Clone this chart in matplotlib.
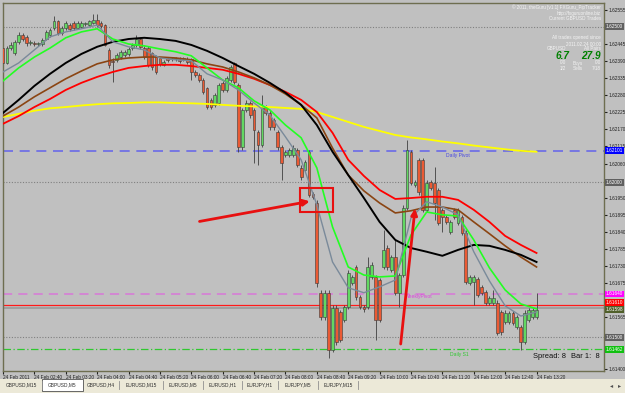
import matplotlib
matplotlib.use("Agg")
import matplotlib.pyplot as plt
import matplotlib.transforms as mtransforms
from matplotlib.patches import Rectangle
import numpy as np

plt.rcParams['font.family'] = ['Liberation Sans', 'DejaVu Sans']

# GBPUSD M5 candles, 24 Feb 2011 02:00 .. 13:20
opens = [1.62432, 1.62384, 1.62432, 1.62416, 1.62452, 1.62474, 1.62468, 1.62449, 1.62449, 1.62445,
         1.62445, 1.62461, 1.62474, 1.62497, 1.62519, 1.62481, 1.62497, 1.62506, 1.62513, 1.62497,
         1.62500, 1.62510, 1.62506, 1.62513, 1.62523, 1.62513, 1.62506, 1.62426, 1.62391, 1.62394,
         1.62403, 1.62410, 1.62413, 1.62432, 1.62442, 1.62461, 1.62432, 1.62432, 1.62416, 1.62407,
         1.62400, 1.62378, 1.62400, 1.62397, 1.62397, 1.62397, 1.62397, 1.62397, 1.62397, 1.62355,
         1.62345, 1.62329, 1.62304, 1.62265, 1.62249, 1.62255, 1.62320, 1.62297, 1.62329, 1.62384,
         1.62313, 1.62114, 1.62233, 1.62255, 1.62233, 1.62162, 1.62120, 1.62242, 1.62223, 1.62201,
         1.62162, 1.62114, 1.62088, 1.62088, 1.62088, 1.62104, 1.62046, 1.62040, 1.62098, 1.61962,
         1.61933, 1.61644, 1.61566, 1.61644, 1.61460, 1.61595, 1.61582, 1.61557, 1.61598, 1.61676,
         1.61727, 1.61631, 1.61598, 1.61598, 1.61695, 1.61695, 1.61685, 1.61727, 1.61788, 1.61718,
         1.61759, 1.61644, 1.61701, 1.61917, 1.62098, 1.61991, 1.62072, 1.62072, 1.61911, 1.62001,
         1.61998, 1.61975, 1.61911, 1.61888, 1.61840, 1.61911, 1.61869, 1.61888, 1.61837, 1.61676,
         1.61679, 1.61689, 1.61663, 1.61647, 1.61611, 1.61611, 1.61611, 1.61582, 1.61550, 1.61550,
         1.61579, 1.61534, 1.61534, 1.61486, 1.61557, 1.61566, 1.61566]
closes = [1.62384, 1.62432, 1.62442, 1.62452, 1.62474, 1.62461, 1.62449, 1.62449, 1.62445, 1.62449,
          1.62458, 1.62484, 1.62490, 1.62519, 1.62481, 1.62497, 1.62513, 1.62494, 1.62497, 1.62513,
          1.62513, 1.62510, 1.62519, 1.62523, 1.62506, 1.62503, 1.62442, 1.62378, 1.62387, 1.62410,
          1.62420, 1.62420, 1.62429, 1.62442, 1.62461, 1.62436, 1.62403, 1.62378, 1.62371, 1.62355,
          1.62381, 1.62387, 1.62394, 1.62397, 1.62397, 1.62391, 1.62397, 1.62387, 1.62355, 1.62345,
          1.62329, 1.62291, 1.62242, 1.62242, 1.62281, 1.62313, 1.62297, 1.62336, 1.62371, 1.62323,
          1.62114, 1.62233, 1.62255, 1.62217, 1.62168, 1.62120, 1.62242, 1.62223, 1.62178, 1.62178,
          1.62114, 1.62062, 1.62098, 1.62104, 1.62110, 1.62056, 1.62017, 1.62065, 1.61959, 1.61953,
          1.61676, 1.61566, 1.61644, 1.61460, 1.61595, 1.61486, 1.61492, 1.61598, 1.61708, 1.61695,
          1.61631, 1.61598, 1.61592, 1.61727, 1.61734, 1.61557, 1.61557, 1.61782, 1.61727, 1.61759,
          1.61644, 1.61701, 1.61917, 1.62104, 1.61998, 1.62001, 1.61969, 1.61911, 1.61998, 1.61982,
          1.61933, 1.61869, 1.61888, 1.61872, 1.61872, 1.61888, 1.61911, 1.61837, 1.61679, 1.61695,
          1.61695, 1.61637, 1.61644, 1.61611, 1.61627, 1.61627, 1.61515, 1.61518, 1.61579, 1.61579,
          1.61547, 1.61566, 1.61486, 1.61579, 1.61589, 1.61589, 1.61589]
highs = [1.62442, 1.62439, 1.62452, 1.62458, 1.62484, 1.62481, 1.62474, 1.62458, 1.62455, 1.62452,
         1.62465, 1.62490, 1.62497, 1.62535, 1.62523, 1.62503, 1.62519, 1.62513, 1.62519, 1.62519,
         1.62519, 1.62516, 1.62523, 1.62542, 1.62542, 1.62519, 1.62510, 1.62432, 1.62400, 1.62416,
         1.62426, 1.62426, 1.62436, 1.62449, 1.62474, 1.62468, 1.62439, 1.62439, 1.62420, 1.62410,
         1.62403, 1.62394, 1.62403, 1.62403, 1.62403, 1.62403, 1.62403, 1.62403, 1.62400, 1.62362,
         1.62352, 1.62336, 1.62307, 1.62271, 1.62288, 1.62320, 1.62326, 1.62342, 1.62378, 1.62387,
         1.62320, 1.62239, 1.62265, 1.62262, 1.62239, 1.62168, 1.62281, 1.62249, 1.62233, 1.62207,
         1.62168, 1.62120, 1.62104, 1.62110, 1.62120, 1.62110, 1.62056, 1.62072, 1.62104, 1.61969,
         1.61943, 1.61653, 1.61653, 1.61653, 1.61605, 1.61605, 1.61589, 1.61605, 1.61718, 1.61701,
         1.61734, 1.61637, 1.61605, 1.61759, 1.61743, 1.61701, 1.61692, 1.61846, 1.61798, 1.61766,
         1.61814, 1.61708, 1.61927, 1.62136, 1.62104, 1.62007, 1.62078, 1.62078, 1.62007, 1.62007,
         1.62049, 1.61982, 1.61917, 1.61895, 1.61879, 1.61917, 1.61917, 1.61895, 1.61846, 1.61701,
         1.61701, 1.61695, 1.61669, 1.61653, 1.61634, 1.61653, 1.61621, 1.61589, 1.61589, 1.61586,
         1.61586, 1.61573, 1.61540, 1.61589, 1.61595, 1.61595, 1.61644]
lows = [1.62374, 1.62381, 1.62426, 1.62410, 1.62445, 1.62455, 1.62439, 1.62442, 1.62439, 1.62439,
        1.62439, 1.62458, 1.62468, 1.62490, 1.62474, 1.62474, 1.62490, 1.62487, 1.62490, 1.62494,
        1.62497, 1.62503, 1.62503, 1.62510, 1.62500, 1.62497, 1.62439, 1.62368, 1.62323, 1.62387,
        1.62397, 1.62403, 1.62407, 1.62426, 1.62436, 1.62429, 1.62397, 1.62371, 1.62362, 1.62349,
        1.62374, 1.62374, 1.62387, 1.62391, 1.62391, 1.62384, 1.62391, 1.62381, 1.62329, 1.62339,
        1.62323, 1.62284, 1.62236, 1.62236, 1.62242, 1.62249, 1.62291, 1.62291, 1.62323, 1.62317,
        1.62098, 1.62104, 1.62226, 1.62207, 1.62062, 1.62056, 1.62114, 1.62217, 1.62168, 1.62168,
        1.62104, 1.62007, 1.62081, 1.62081, 1.62081, 1.62049, 1.62007, 1.62033, 1.61953, 1.61946,
        1.61663, 1.61557, 1.61557, 1.61434, 1.61454, 1.61476, 1.61486, 1.61550, 1.61592, 1.61669,
        1.61621, 1.61592, 1.61582, 1.61592, 1.61689, 1.61492, 1.61550, 1.61721, 1.61718, 1.61711,
        1.61637, 1.61598, 1.61695, 1.61911, 1.61991, 1.61985, 1.61959, 1.61904, 1.61904, 1.61975,
        1.61879, 1.61862, 1.61840, 1.61866, 1.61834, 1.61882, 1.61862, 1.61830, 1.61673, 1.61669,
        1.61605, 1.61631, 1.61637, 1.61605, 1.61605, 1.61605, 1.61508, 1.61508, 1.61544, 1.61544,
        1.61540, 1.61528, 1.61460, 1.61479, 1.61550, 1.61560, 1.61560]

# moving averages, read every 4th bar
ma_yellow = [1.62210, 1.62220, 1.62230, 1.62238, 1.62242, 1.62247, 1.62251, 1.62254, 1.62255, 1.62257,
             1.62257, 1.62255, 1.62254, 1.62252, 1.62249, 1.62246, 1.62244, 1.62242, 1.62239, 1.62236,
             1.62226, 1.62210, 1.62194, 1.62178, 1.62165, 1.62152, 1.62144, 1.62138, 1.62131, 1.62125,
             1.62118, 1.62112, 1.62106, 1.62101, 1.62098]
ma_black = [1.62223, 1.62265, 1.62310, 1.62349, 1.62384, 1.62413, 1.62436, 1.62452, 1.62461, 1.62465,
            1.62461, 1.62455, 1.62442, 1.62423, 1.62400, 1.62374, 1.62349, 1.62320, 1.62288, 1.62249,
            1.62184, 1.62098, 1.62023, 1.61949, 1.61872, 1.61814, 1.61788, 1.61776, 1.61763, 1.61782,
            1.61798, 1.61795, 1.61782, 1.61766, 1.61743]
ma_brown = [1.62213, 1.62242, 1.62275, 1.62304, 1.62333, 1.62358, 1.62381, 1.62394, 1.62400, 1.62403,
            1.62403, 1.62400, 1.62394, 1.62381, 1.62371, 1.62355, 1.62336, 1.62313, 1.62284, 1.62249,
            1.62207, 1.62110, 1.62023, 1.61972, 1.61933, 1.61901, 1.61908, 1.61920, 1.61920, 1.61911,
            1.61872, 1.61834, 1.61795, 1.61759, 1.61727]
ma_red = [1.62188, 1.62213, 1.62242, 1.62268, 1.62297, 1.62320, 1.62339, 1.62355, 1.62368, 1.62374,
          1.62378, 1.62378, 1.62374, 1.62368, 1.62362, 1.62349, 1.62333, 1.62313, 1.62291, 1.62265,
          1.62226, 1.62159, 1.62072, 1.62020, 1.61975, 1.61946, 1.61949, 1.61953, 1.61953, 1.61943,
          1.61911, 1.61872, 1.61827, 1.61798, 1.61772]
ma_green = [1.62326, 1.62368, 1.62403, 1.62432, 1.62465, 1.62484, 1.62494, 1.62461, 1.62445, 1.62439,
            1.62429, 1.62420, 1.62407, 1.62368, 1.62329, 1.62304, 1.62262, 1.62233, 1.62184, 1.62143,
            1.62046, 1.61856, 1.61727, 1.61701, 1.61695, 1.61698, 1.61830, 1.61904, 1.61895, 1.61891,
            1.61814, 1.61724, 1.61653, 1.61608, 1.61592]
ma_gray = [1.62355, 1.62384, 1.62426, 1.62468, 1.62484, 1.62494, 1.62506, 1.62452, 1.62436, 1.62426,
           1.62400, 1.62394, 1.62391, 1.62349, 1.62329, 1.62297, 1.62255, 1.62217, 1.62146, 1.62072,
           1.61927, 1.61743, 1.61660, 1.61644, 1.61663, 1.61685, 1.61885, 1.61937, 1.61920, 1.61895,
           1.61776, 1.61682, 1.61602, 1.61569, 1.61582]

# levels
round_levels = [1.62500, 1.62000, 1.61500]
daily_pivot = 1.62101
weekly_pivot = 1.61640
daily_s1 = 1.61462
red_level = 1.61606
bid_level = 1.61596

price_ticks = [1.62555, 1.62500, 1.62445, 1.62390, 1.62335, 1.62280, 1.62225, 1.62170, 1.62115, 1.62060,
               1.62005, 1.61950, 1.61895, 1.61840, 1.61785, 1.61730, 1.61675, 1.61620, 1.61565, 1.61510,
               1.61455, 1.61400]
time_labels = ["24 Feb 2011", "24 Feb 02:40", "24 Feb 03:20", "24 Feb 04:00", "24 Feb 04:40",
               "24 Feb 05:20", "24 Feb 06:00", "24 Feb 06:40", "24 Feb 07:20", "24 Feb 08:00",
               "24 Feb 08:40", "24 Feb 09:20", "24 Feb 10:00", "24 Feb 10:40", "24 Feb 11:20",
               "24 Feb 12:00", "24 Feb 12:40", "24 Feb 13:20"]
tabs = ["GBPUSD,M15", "GBPUSD,M5", "GBPUSD,H4", "EURUSD,M15", "EURUSD,M5", "EURUSD,H1",
        "EURJPY,H1", "EURJPY,M5", "EURJPY,M15"]

# highlighted prices on the right scale
hl_prices = [1.62500, 1.62101, 1.62000, 1.61640, 1.61612, 1.61590, 1.61500, 1.61462]
hl_texts = ["1.62500", "1.62101", "1.62000", "1.61640", "1.61610", "1.61598", "1.61500", "1.61462"]
hl_colors = ['#606060', '#0000ff', '#606060', '#ff00ff', '#ff0000', '#50602a', '#606060', '#10c010']

W, H = 625, 393
fig = plt.figure(figsize=(W / 100, H / 100), dpi=100, facecolor='#c0c0c0')
ax = fig.add_axes([3 / W, 1 - 371 / H, 601 / W, 368 / H])
ax.set_facecolor('#c0c0c0')

n = len(opens)
x = np.arange(n)
o = np.array(opens); c = np.array(closes)
bull = c >= o

# level lines
for lv in round_levels:
    ax.axhline(lv, color='#808080', lw=0.8, ls=(0, (1, 1.5)), zorder=1)
ax.axhline(daily_pivot, color='#6a6ae8', lw=1.2, ls=(0, (6, 4)), zorder=1)
ax.axhline(weekly_pivot, color='#d878d8', lw=1.1, ls=(0, (6, 4)), zorder=1)
ax.axhline(daily_s1, color='#30c830', lw=0.9, ls=(0, (6, 2, 1, 2)), zorder=1)
ax.axhline(red_level, color='#ff1a1a', lw=0.9, zorder=1)
ax.axhline(bid_level, color='#a0a0a0', lw=1.4, zorder=1)

# candles
ax.vlines(x, lows, highs, color='#404040', lw=0.6, zorder=2)
body = np.where(np.abs(c - o) < 0.00002, 0.00002, c - o)
ax.bar(x[bull], body[bull], bottom=o[bull], width=0.72, color='#62d862',
       edgecolor='#3a3a3a', linewidth=0.4, zorder=3)
ax.bar(x[~bull], body[~bull], bottom=o[~bull], width=0.72, color='#ea5a34',
       edgecolor='#3a3a3a', linewidth=0.4, zorder=3)

# moving averages
xm = np.arange(0, n, 4)
ax.plot(xm, ma_yellow, color='#ffff00', lw=1.3, zorder=4)
ax.plot(xm, ma_red, color='#ff0000', lw=1.3, zorder=4)
ax.plot(xm, ma_brown, color='#8b4513', lw=1.2, zorder=4)
ax.plot(xm, ma_black, color='#000000', lw=1.4, zorder=4)
ax.plot(xm, ma_green, color='#22ff22', lw=1.2, zorder=5)
ax.plot(xm, ma_gray, color='#7a8a9a', lw=1.0, zorder=5)

# level captions
ax.text(113, 1.62080, "Daily Pivot", color='#4848e0', fontsize=3.6, zorder=6)
ax.text(102.5, 1.61628, "WeeklyPivot", color='#e040e0', fontsize=3.6, zorder=6)
ax.text(114, 1.61440, "Daily S1", color='#30c830', fontsize=3.6, zorder=6)

# annotations
ax.annotate('', xy=(78.9, 1.61940), xytext=(49.4, 1.61872),
            arrowprops=dict(arrowstyle='-|>', color='#e81010', lw=2, mutation_scale=9), zorder=7)
ax.annotate('', xy=(105.1, 1.61924), xytext=(101.3, 1.61470),
            arrowprops=dict(arrowstyle='-|>', color='#e81010', lw=2, mutation_scale=9), zorder=7)
ax.add_patch(Rectangle((75.8, 1.61904), 8.4, 0.00078, fill=False, ec='#e81010', lw=1.5, zorder=7))

ax.set_xlim(0.254, 153.2)
ax.set_ylim(1.61392, 1.62577)

# right price scale: ticks hidden under a highlighted label get no text
ax.yaxis.tick_right()
ax.set_yticks(price_ticks)
tick_txt = []
for p in price_ticks:
    covered = min(abs(p - q) for q in hl_prices) < 0.00012
    tick_txt.append("" if covered else f"{p:.5f}")
ax.set_yticklabels(tick_txt)
ax.tick_params(axis='y', length=2, labelsize=3.4, pad=1, colors='#202020')
ax.set_xticks(np.arange(0, 8 * len(time_labels), 8))
ax.set_xticklabels(time_labels, ha='left')
ax.tick_params(axis='x', length=2, labelsize=3.4, pad=1, colors='#202020')
for s in ax.spines.values():
    s.set_color('#6e6e50')
    s.set_linewidth(1)

tr = mtransforms.blended_transform_factory(ax.transAxes, ax.transData)
for p, t, col in zip(hl_prices, hl_texts, hl_colors):
    ax.text(1.003, p, t, transform=tr, fontsize=3.4, color='white', va='center', ha='left',
            bbox=dict(boxstyle='square,pad=0.2', fc=col, ec='none'), clip_on=False, zorder=8)

# info block (top right)
def ftext(px, py, s, **kw):
    kw.setdefault('fontsize', 3.3)
    kw.setdefault('color', '#f4f4f4')
    fig.text(px / W, 1 - py / H, s, va='center', **kw)

ftext(601, 7, "\u00a9 2011, theGuru [v1.1] FXGuru_PipTracker", ha='right')
ftext(601, 13, "http://fxguruonline.biz", ha='right')
ftext(601, 19, "Current GBPUSD Trades", ha='right')
ftext(601, 38, "All trades opened since", ha='right')
ftext(601, 44, "2011.02.24 00:00", ha='right')
ftext(547, 49, "GBPUSD", ha='left')
ftext(601, 49, "All Pairs", ha='right')
ftext(570, 56, "6.7", ha='right', fontsize=7.2, color='#008000', fontweight='bold', style='italic')
ftext(601, 56, "27.9", ha='right', fontsize=7.2, color='#008000', fontweight='bold', style='italic')
ftext(566, 63, "0/0", ha='right')
ftext(578, 63, "Buys", ha='center')
ftext(601, 63, "0/0", ha='right')
ftext(566, 68, "1/2", ha='right')
ftext(578, 68, "Sells", ha='center')
ftext(601, 68, "7/18", ha='right')

ftext(533, 357, "Spread: 8", ha='left', fontsize=5.4, color='#101010')
ftext(571, 357, "Bar 1:  8", ha='left', fontsize=5.4, color='#101010')

# tab bar
fig.patches.append(Rectangle((0, 0), 1, 14 / H, transform=fig.transFigure,
                             fc='#ece9d8', ec='none', zorder=0))
edges = [0, 42, 83, 119, 163, 203, 242, 278, 318, 358]
for i, name in enumerate(tabs):
    x0, x1 = edges[i], edges[i + 1]
    if i == 1:
        fig.patches.append(Rectangle((x0 / W, 2 / H), (x1 - x0) / W, 12 / H,
                                     transform=fig.transFigure, fc='white', ec='#505050',
                                     lw=0.6, zorder=1))
    else:
        fig.add_artist(plt.Line2D([x1 / W, x1 / W], [4 / H, 12 / H], color='#909090', lw=0.6))
    fig.text((x0 + x1) / 2 / W, 8 / H, name, fontsize=3.5, color='#303030',
             ha='center', va='center')
fig.text(612 / W, 7 / H, "\u25c2", fontsize=4.5, color='#505050', ha='center', va='center')
fig.text(620 / W, 7 / H, "\u25b8", fontsize=4.5, color='#505050', ha='center', va='center')

fig.savefig("out.png", dpi=100, facecolor=fig.get_facecolor())
